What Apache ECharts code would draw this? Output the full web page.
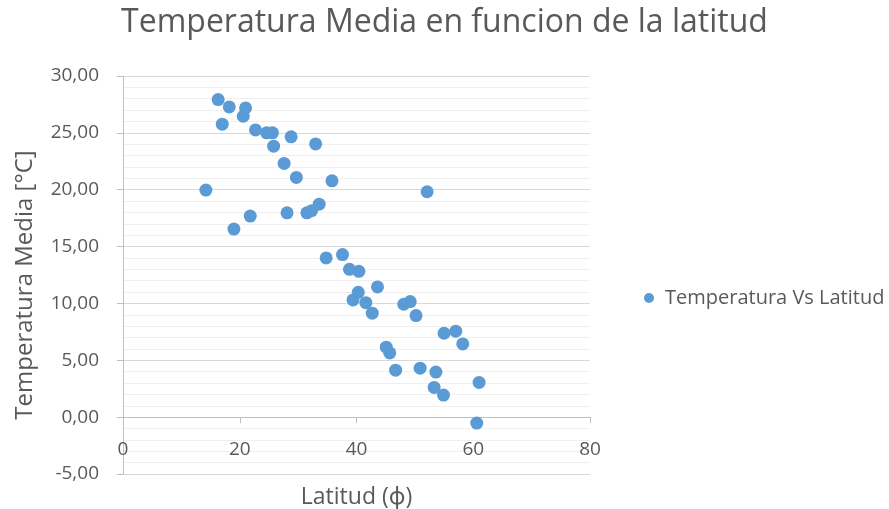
<!DOCTYPE html>
<html>
<head>
<meta charset="utf-8">
<script src="https://cdn.jsdelivr.net/npm/echarts@6/dist/echarts.min.js"></script>
<style>html,body{margin:0;padding:0;background:#fff}#c{width:889px;height:509px}</style>
</head>
<body>
<div id="c"></div>
<script>
const latitud = [16.3, 18.2, 21.0, 20.6, 17.0, 22.7, 24.6, 25.6, 28.8, 25.8, 33.0, 27.6, 29.7, 35.8, 14.2, 33.6, 28.1, 31.5, 32.3, 21.8, 19.0, 34.8, 37.6,
  52.1, 38.8, 40.4, 43.6, 40.3, 39.4, 41.6, 42.7, 48.1, 49.2, 50.2, 55.0, 57.0, 58.2, 45.1, 45.7, 46.7, 50.9, 53.6, 61.0, 53.3, 54.9, 60.6];
const temperatura = [27.93, 27.28, 27.19, 26.46, 25.76, 25.26, 25.0, 25.0, 24.65, 23.83, 24.03, 22.31, 21.08, 20.78, 19.97, 18.73, 17.97, 17.97, 18.15, 17.68, 16.54, 14.0, 14.3,
  19.82, 13.0, 12.82, 11.45, 10.98, 10.31, 10.07, 9.14, 9.93, 10.16, 8.93, 7.38, 7.56, 6.44, 6.15, 5.65, 4.13, 4.31, 3.96, 3.05, 2.61, 1.94, -0.52];
const titulo = 'Temperatura Media en funcion de la latitud';
const serieNombre = 'Temperatura Vs Latitud';
const ejeX = 'Latitud (ϕ)';
const ejeY = 'Temperatura Media [°C]';

const puntos = latitud.map((x, i) => [x, temperatura[i]]);
const FONT = '"Open Sans", "Noto Sans", sans-serif';
const GRID = {left: 123, right: 299, top: 76, bottom: 35};
const Y_MIN = -5, Y_MAX = 30;
const plotH = 509 - GRID.top - GRID.bottom;
// shift x axis from bottom of grid up to the y = 0 line
const xOffset = -plotH * (0 - Y_MIN) / (Y_MAX - Y_MIN);

const chart = echarts.init(document.getElementById('c'), null, {renderer: 'canvas'});
chart.setOption({
  animation: false,
  backgroundColor: '#ffffff',
  title: {
    text: titulo, left: 'center', top: 2,
    textStyle: {fontFamily: FONT, fontSize: 32, fontWeight: 'normal', color: '#595959'}
  },
  legend: {
    left: 639, top: 283, orient: 'vertical',
    icon: 'circle', itemWidth: 10, itemHeight: 10, itemGap: 6,
    textStyle: {fontFamily: FONT, fontSize: 20, color: '#595959', padding: [0, 0, 0, 6]},
    data: [serieNombre]
  },
  grid: Object.assign({containLabel: false, outerBoundsMode: 'none'}, GRID),
  xAxis: {
    type: 'value', min: 0, max: 80, interval: 20,
    offset: xOffset,
    name: ejeX, nameLocation: 'middle', nameGap: 69,
    nameTextStyle: {fontFamily: FONT, fontSize: 23, color: '#595959'},
    axisLine: {show: true, onZero: false, lineStyle: {color: '#bfbfbf', width: 1}},
    axisTick: {show: true, length: 6, lineStyle: {color: '#bfbfbf'}},
    axisLabel: {fontFamily: FONT, fontSize: 19, color: '#595959', margin: 23},
    splitLine: {show: false}
  },
  yAxis: {
    type: 'value', min: Y_MIN, max: Y_MAX, interval: 5,
    name: ejeY, nameLocation: 'middle', nameGap: 86, nameRotate: 90,
    nameTextStyle: {fontFamily: FONT, fontSize: 24, color: '#595959', padding: [0, 20, 0, 0]},
    axisLine: {show: true, lineStyle: {color: '#bfbfbf', width: 1}},
    axisTick: {show: true, length: 6, lineStyle: {color: '#bfbfbf'}},
    minorTick: {show: false, splitNumber: 5},
    minorSplitLine: {show: true, lineStyle: {color: '#efefef', width: 1}},
    axisLabel: {fontFamily: FONT, fontSize: 19, color: '#595959', margin: 24,
      formatter: v => v.toFixed(2).replace('.', ',')},
    splitLine: {show: true, lineStyle: {color: '#d9d9d9', width: 1}}
  },
  series: [{
    name: serieNombre, type: 'scatter', data: puntos,
    symbol: 'circle', symbolSize: 13,
    itemStyle: {color: '#5b9bd5', opacity: 1}
  }]
});
</script>
</body>
</html>
